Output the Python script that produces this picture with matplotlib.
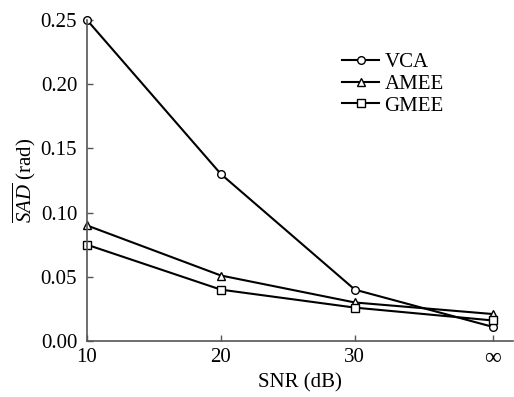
import matplotlib
matplotlib.use('Agg')
import matplotlib.pyplot as plt

plt.rcParams['font.family'] = ['Liberation Serif', 'DejaVu Serif']
plt.rcParams['mathtext.fontset'] = 'custom'
plt.rcParams['mathtext.rm'] = 'Liberation Serif'
plt.rcParams['mathtext.it'] = 'Liberation Serif:italic'

# data
snr_pos = [10, 20, 30, 40.3]
snr_labels = ['10', '20', '30', '\u221e']
vca = [0.25, 0.13, 0.04, 0.011]
amee = [0.09, 0.051, 0.03, 0.021]
gmee = [0.075, 0.04, 0.026, 0.016]

fig = plt.figure(figsize=(5.14, 3.97), dpi=100)
ax = fig.add_axes([0.169, 0.141, 0.829, 0.809])

kw = dict(color='black', lw=1.5, markerfacecolor='white', markeredgecolor='black',
          markersize=5.5, markeredgewidth=1.0)
ax.plot(snr_pos, vca, marker='o', label='VCA', **kw)
ax.plot(snr_pos, amee, marker='^', label='AMEE', **kw)
ax.plot(snr_pos, gmee, marker='s', label='GMEE', **kw)

ax.set_xlim(10, 41.8)
ax.set_ylim(0, 0.25)
ax.set_xticks(snr_pos)
ax.set_xticklabels(snr_labels)
ax.set_yticks([0, 0.05, 0.10, 0.15, 0.20, 0.25])
ax.set_yticklabels(['0.00', '0.05', '0.10', '0.15', '0.20', '0.25'])
ax.tick_params(direction='in', labelsize=15, length=4, width=1, color='#555555')
ax.tick_params(axis='y', pad=7)
ax.tick_params(axis='x', pad=5)
ax.get_xticklabels()[-1].set_fontsize(17)
for s in ['top', 'right']:
    ax.spines[s].set_visible(False)
for s in ['left', 'bottom']:
    ax.spines[s].set_color('#555555')
    ax.spines[s].set_linewidth(1.2)
for l in ax.lines:
    l.set_clip_on(False)

ax.set_xlabel('SNR (dB)', fontsize=15, labelpad=3)
ax.set_ylabel(r'$\overline{SAD}$ (rad)', fontsize=15, labelpad=2)

ax.legend(loc='upper left', bbox_to_anchor=(0.574, 0.93), frameon=False, fontsize=15,
          handlelength=1.8, handletextpad=0.25, labelspacing=0.1, borderpad=0)

fig.savefig('out.png', dpi=100)
